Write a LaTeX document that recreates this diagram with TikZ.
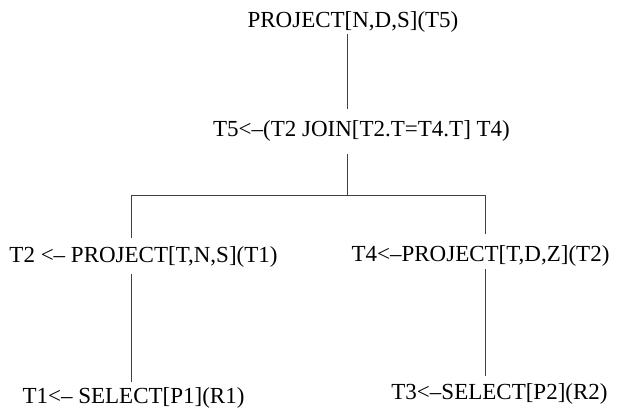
\documentclass[tikz,border=0pt]{standalone}
\usepackage{fontspec}
\setmainfont{Liberation Serif}
\usetikzlibrary{positioning}
\tikzset{
    op/.style={inner sep=0pt, anchor=base, font=\fontsize{23}{27}\selectfont}, % one operator of the plan
    link/.style={line width=0.8pt, black!75}, % plain tree edge
}

\begin{document}
\begin{tikzpicture}[x=1pt, y=1pt]
                \useasboundingbox (0,0) rectangle (622,412);

                \node[op] (p5) at (353,384) {PROJECT[N,D,S](T5)};
                \node[op] (t5) at (361.5,275) {T5<--(T2 JOIN[T2.T=T4.T] T4)};
                \node[op] (t2) at (143.5,149) {T2 <-- PROJECT[T,N,S](T1)};
                \node[op] (t4) at (480.5,150) {T4<--PROJECT[T,D,Z](T2)};
                \node[op] (t1) at (133.5,8) {T1<-- SELECT[P1](R1)};
                \node[op] (t3) at (499.5,12) {T3<--SELECT[P2](R2)};

                % where the join splits
                \coordinate (fork) at (347,217);
                \coordinate (forkL) at (131.7,217);
                \coordinate (forkR) at (485.7,217);

                \draw[link, shorten <=1pt, shorten >=12pt] (p5.south -| fork) -- (t5.north -| fork);
                \draw[link, shorten <=12pt] (t5.south -| fork) -- (fork);
                \draw[link, shorten <=9pt, shorten >=12pt] (t2.north -| forkL) -- (forkL) -- (forkR) -- (t4.north -| forkR);
                \draw[link, shorten <=6pt, shorten >=6pt] (t2.south -| forkL) -- (t1.north -| forkL);
                \draw[link, shorten <=2pt, shorten >=8pt] (t4.south -| forkR) -- (t3.north -| forkR);
            \end{tikzpicture}
\end{document}
